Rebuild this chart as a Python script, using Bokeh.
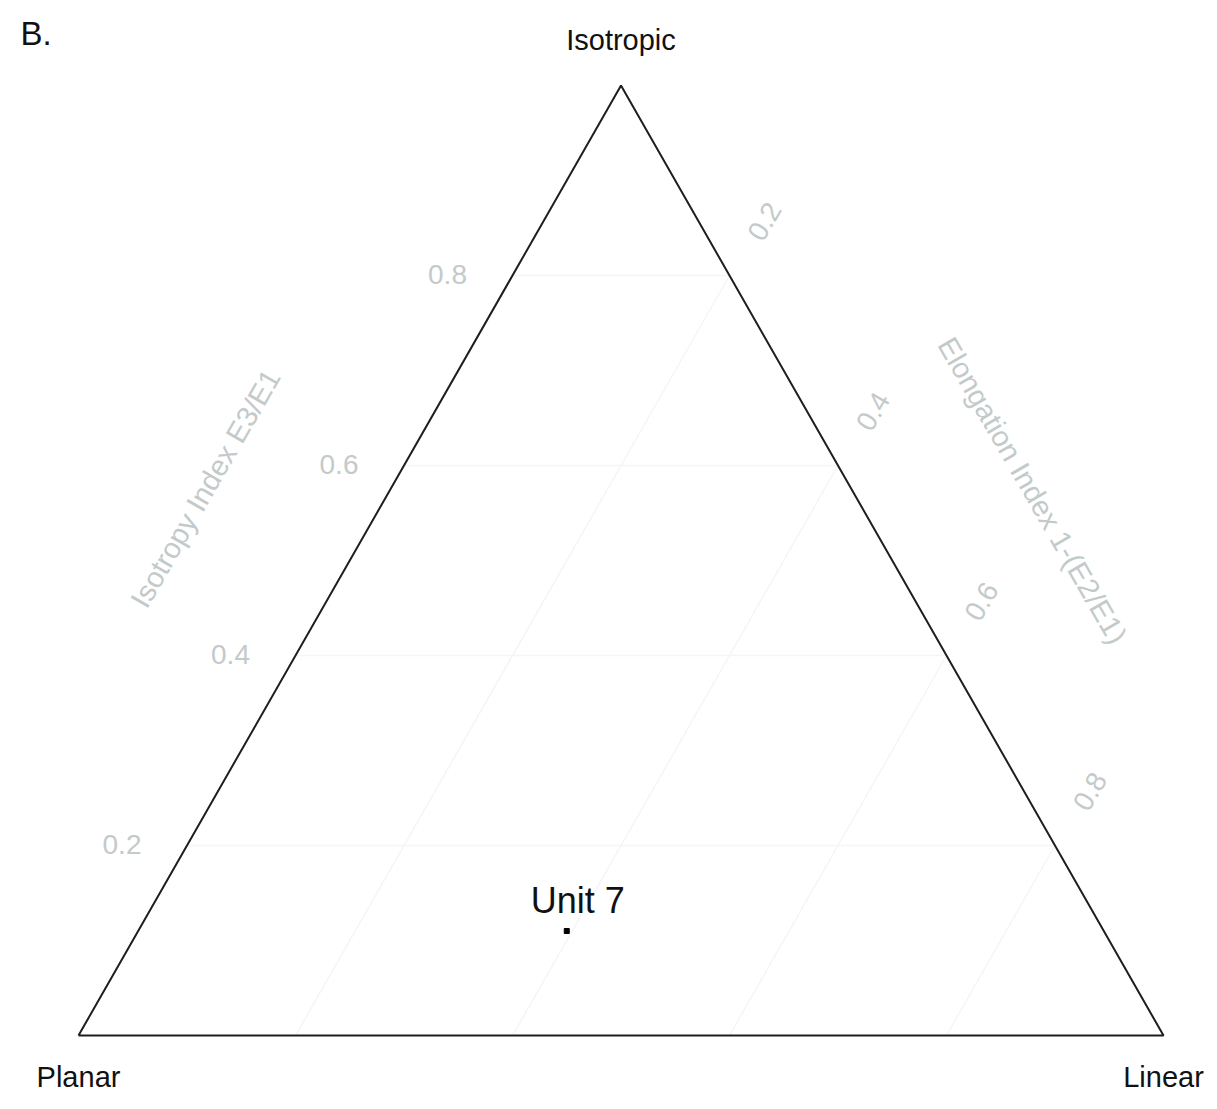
from bokeh.plotting import figure
from bokeh.embed import file_html
from bokeh.resources import INLINE
from bokeh.core.properties import value
from bokeh.models import Range1d
import math

# ---- data ----
vertex_labels = ["Planar", "Linear", "Isotropic"]
isotropy_ticks = [0.2, 0.4, 0.6, 0.8]
elongation_ticks = [0.2, 0.4, 0.6, 0.8]
tick_labels = ["0.2", "0.4", "0.6", "0.8"]
sample_names = ["Unit 7"]
sample_elongation = [0.395]
sample_isotropy = [0.11]
isotropy_title = "Isotropy Index E3/E1"
elongation_title = "Elongation Index 1-(E2/E1)"
panel_label = "B."

# ternary -> cartesian (base along x in [0,1], height = isotropy in [0,1])
def tern(e, i):
    return e + 0.5 * i, i

FONT = value("Liberation Sans")
GREY = "#c3caca"
GRID = "#f5f5f5"

W, H = 1209, 1093
OX, OY = 0, 0  # position of figure's top-left in the screenshot
sx, sy = 1085.0, 950.0
p = figure(width=W, height=H, output_backend="svg", toolbar_location=None,
           x_range=Range1d((OX - 78) / sx, (OX + W - 78) / sx),
           y_range=Range1d((1035 - (OY + H)) / sy, (1035 - OY) / sy),
           min_border=0)
p.axis.visible = False
p.grid.visible = False
p.outline_line_color = None
p.background_fill_color = "white"

# gridlines: isotropy (horizontal)
for t in isotropy_ticks:
    x0, y0 = tern(0, t)
    x1, y1 = tern(1 - t, t)
    p.line([x0, x1], [y0, y1], line_color=GRID, line_width=1.5)
# gridlines: elongation (parallel to left edge)
for t in elongation_ticks:
    x0, y0 = tern(t, 0)
    x1, y1 = tern(t, 1 - t)
    p.line([x0, x1], [y0, y1], line_color=GRID, line_width=1.5)

# triangle
tx = [tern(0, 0)[0], tern(1, 0)[0], tern(0, 1)[0], tern(0, 0)[0]]
ty = [tern(0, 0)[1], tern(1, 0)[1], tern(0, 1)[1], tern(0, 0)[1]]
p.line(tx, ty, line_color="#1e1e1e", line_width=2)

# tick labels left (isotropy)
lx = [tern(0, t)[0] - 65 / sx for t in isotropy_ticks]
ly = [t + 1 / sy for t in isotropy_ticks]
p.text(lx, ly, text=tick_labels, text_font=FONT, text_font_size="28px",
       text_color=GREY, text_align="center", text_baseline="middle")

# tick labels right (elongation), along gridline extension
rx = [tern(t, 1 - t)[0] + 35 / sx for t in elongation_ticks]
ry = [tern(t, 1 - t)[1] + 54 / sy for t in elongation_ticks]
p.text(rx, ry, text=tick_labels, text_font=FONT, text_font_size="28px",
       text_color=GREY, text_align="center", text_baseline="middle",
       angle=math.radians(60))

# axis titles
p.text([(205 - 78) / sx], [(1035 - 488) / sy], text=[isotropy_title], text_font=FONT,
       text_font_size="29px", text_color=GREY, text_align="center",
       text_baseline="middle", angle=math.radians(60))
p.text([(1032 - 78) / sx], [(1035 - 490) / sy], text=[elongation_title], text_font=FONT,
       text_font_size="29px", text_color=GREY, text_align="center",
       text_baseline="middle", angle=math.radians(-60))

# vertex labels
vx = [tern(0, 0)[0], tern(1, 0)[0], tern(0, 1)[0]]
vy = [(1035 - 1076) / sy, (1035 - 1076) / sy, (1035 - 39) / sy]
p.text(vx, vy, text=vertex_labels, text_font=FONT, text_font_size="29px",
       text_color="#111111", text_align="center", text_baseline="middle")

# panel label
p.text([(20 - 78) / sx], [(1035 - 33) / sy], text=[panel_label], text_font=FONT,
       text_font_size="33px", text_color="#111111", text_align="left",
       text_baseline="middle")

# sample point
px = [tern(e, i)[0] for e, i in zip(sample_elongation, sample_isotropy)]
py = [tern(e, i)[1] for e, i in zip(sample_elongation, sample_isotropy)]
p.scatter(px, py, marker="square", size=5, color="black")
p.text([x + 11 / sx for x in px], [y + 31 / sy for y in py], text=sample_names,
       text_font=FONT, text_font_size="36px", text_color="#111111",
       text_align="center", text_baseline="middle")

open("out.html", "w").write(file_html(p, INLINE))
